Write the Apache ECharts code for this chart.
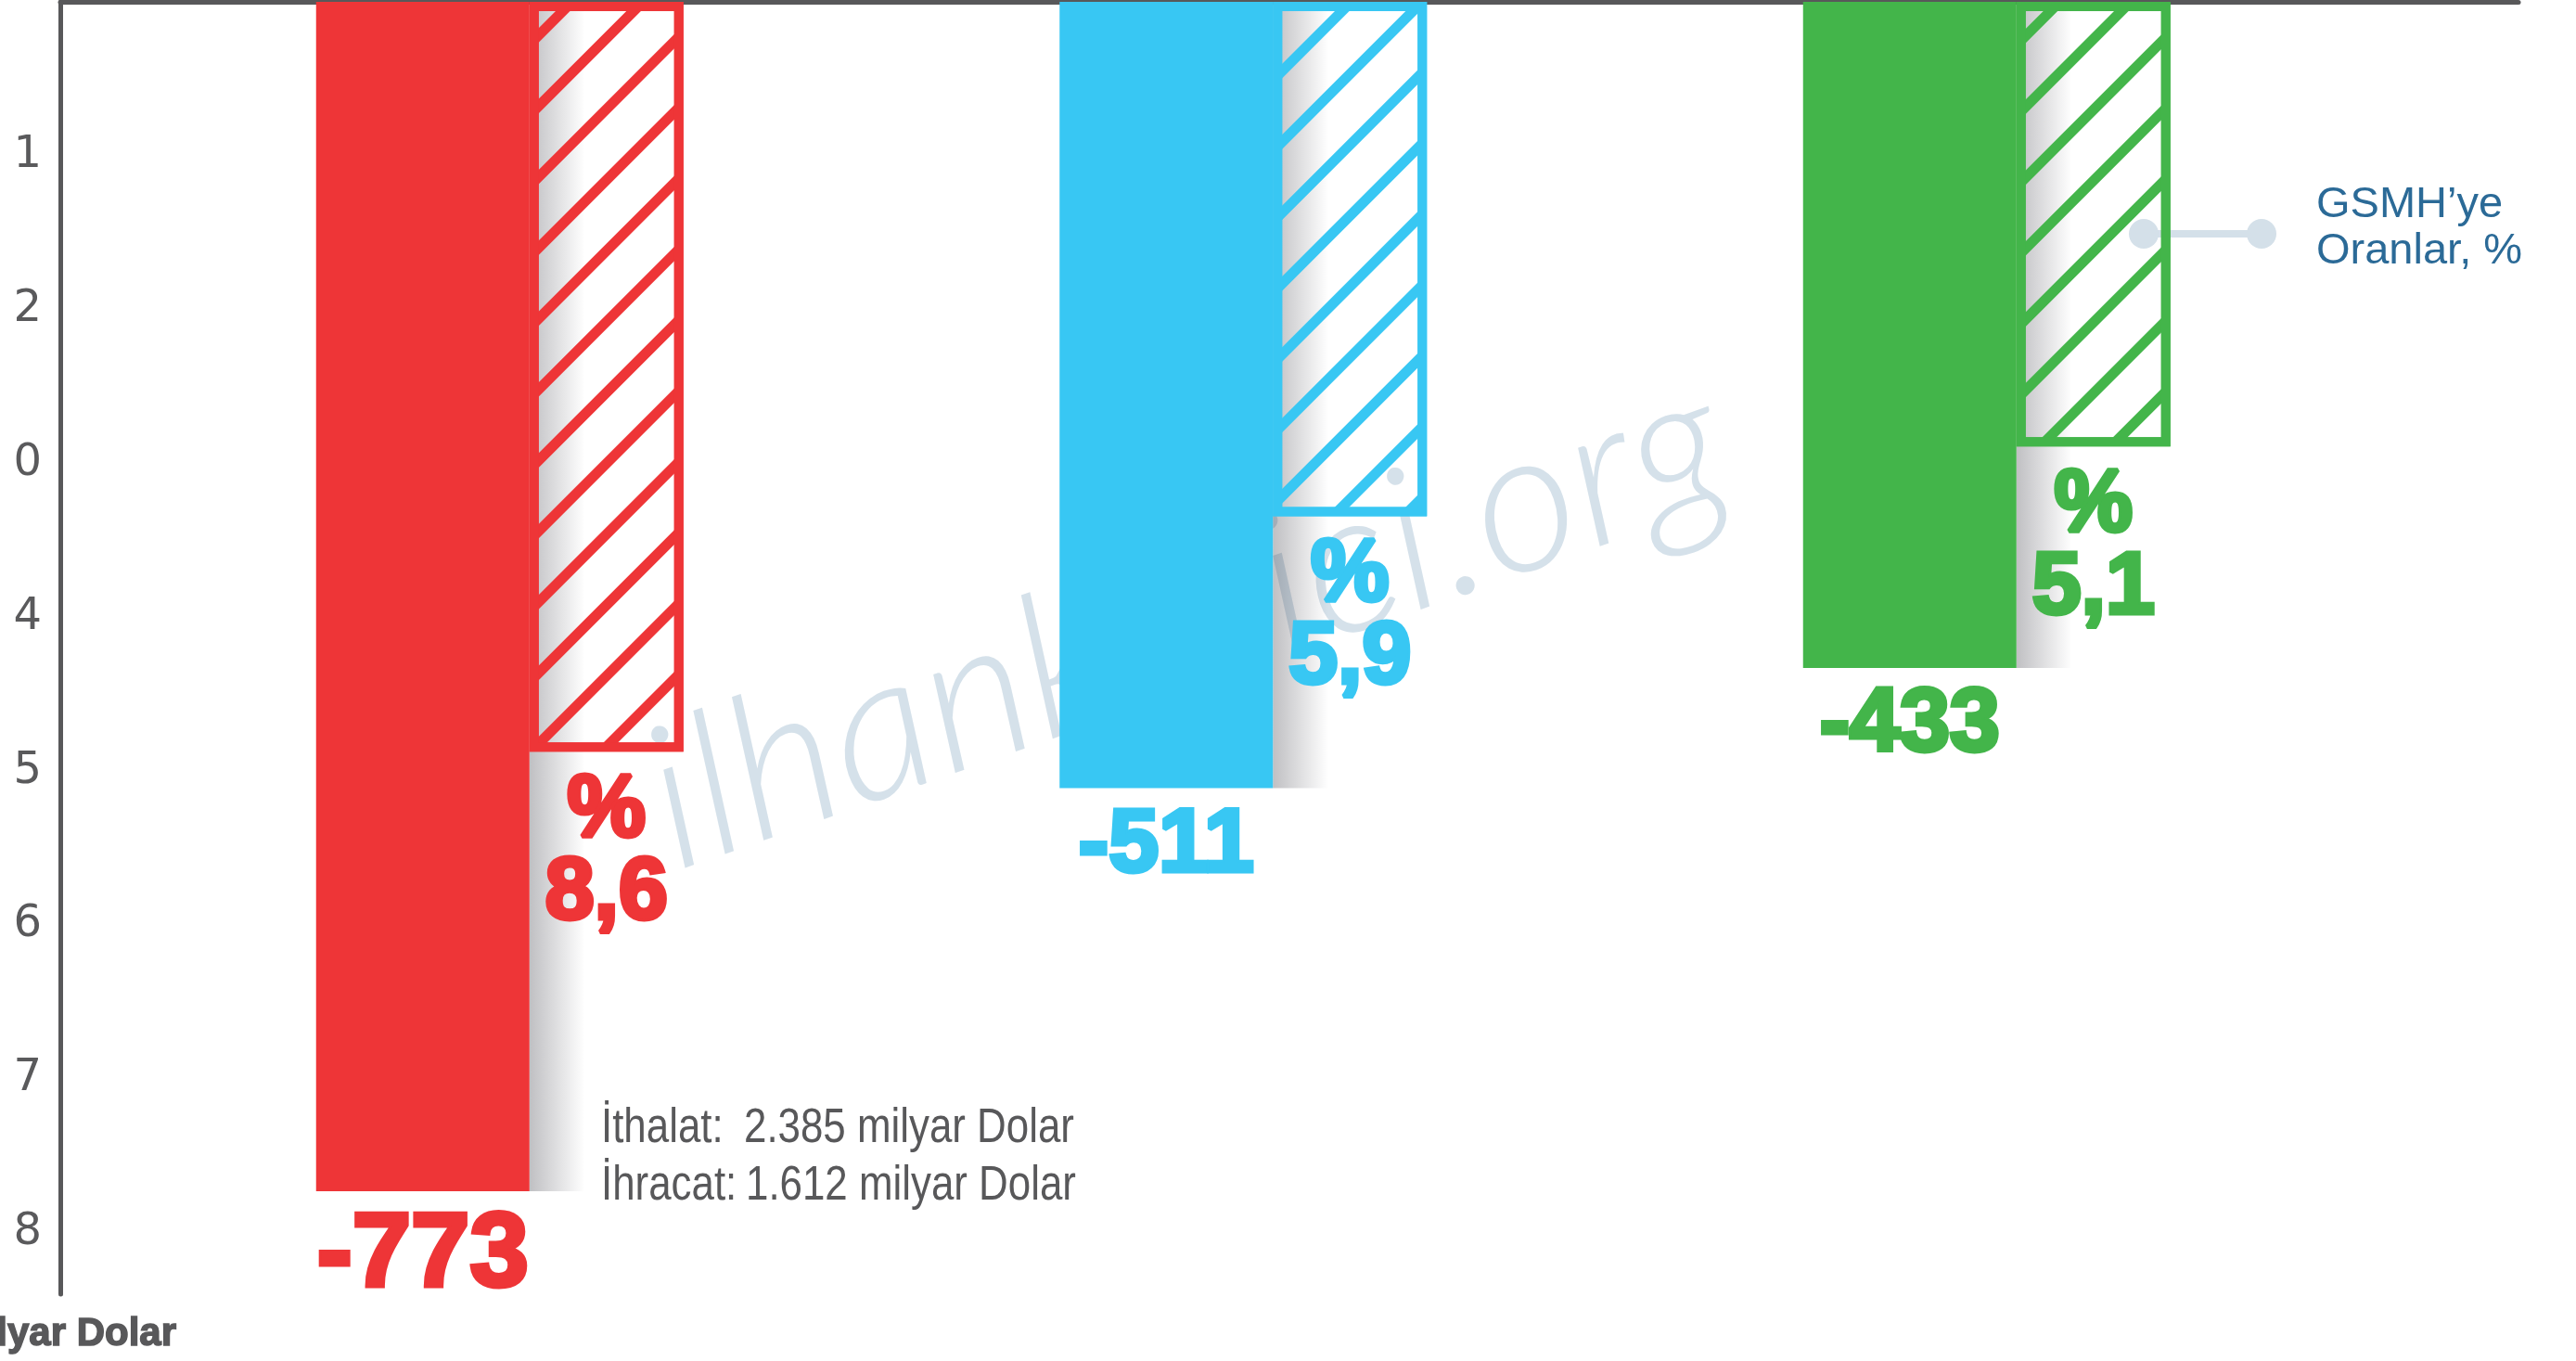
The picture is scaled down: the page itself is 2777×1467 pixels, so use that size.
<!DOCTYPE html>
<html>
<head>
<meta charset="utf-8">
<script src="https://cdn.jsdelivr.net/npm/echarts@6/dist/echarts.min.js"></script>
<style>
html,body{margin:0;padding:0;background:#ffffff;}
#chart{width:2777px;height:1467px;}
</style>
</head>
<body>
<div id="chart"></div>
<script>
// ---------------- DATA ----------------
const categories = ['Dönem 1', 'Dönem 2', 'Dönem 3'];
const deficit = [-773, -511, -433];          // dış ticaret açığı, milyar Dolar
const gdpRatio = [8.6, 5.9, 5.1];            // GSMH'ye oran, %
const yTickValues = [-100, -200, -300, -400, -500, -600, -700, -800];
const yTickLabels = ['1', '2', '0', '4', '5', '6', '7', '8'];
const importTotal = '2.385';
const exportTotal = '1.612';
const unitLabel = 'Milyar Dolar';
const ratioLegend = ['GSMH\u2019ye', 'Oranlar, %'];
const watermark = 'ilhankesici.org';

// ---------------- STYLE ----------------
const barColors = ['#ee3537', '#38c7f3', '#43b54a'];
const valueLabelSizes = [114, 97, 97];
const AXIS = '#58585a';
const Y_MIN = -840;
const PCT_MAX = 14.82;
const TOP = 2, H = 1393;

const chart = echarts.init(document.getElementById('chart'));

const shadowGrad = new echarts.graphic.LinearGradient(0, 0, 1, 0, [
  { offset: 0, color: 'rgba(45,45,55,0.30)' },
  { offset: 0.36, color: 'rgba(45,45,55,0)' }
]);

const boldFont = 'Liberation Sans';
const noteFont = '51px "Liberation Sans"';

const option = {
  animation: false,
  backgroundColor: '#ffffff',
  grid: [
    { left: 65, right: 62, top: TOP, height: H },
    { left: 138, width: 2404.5, top: TOP, height: H }
  ],
  xAxis: [
    { gridIndex: 0, type: 'category', data: categories, position: 'top',
      axisLine: { show: true, lineStyle: { color: AXIS, width: 5 } },
      axisTick: { show: false }, axisLabel: { show: false }, splitLine: { show: false } },
    { gridIndex: 1, type: 'category', data: categories, show: false },
    { gridIndex: 1, type: 'category', data: categories, show: false }
  ],
  yAxis: [
    { gridIndex: 0, type: 'value', min: Y_MIN, max: 0, interval: 10,
      axisLine: { show: true, lineStyle: { color: AXIS, width: 5, cap: 'round' } },
      axisTick: { show: false }, splitLine: { show: false },
      axisLabel: {
        formatter: function (v) {
          const i = yTickValues.indexOf(Math.round(v));
          return i < 0 ? '' : yTickLabels[i];
        },
        color: '#5a5a5c', fontSize: 48, fontFamily: 'DejaVu Sans', margin: 20
      } },
    { gridIndex: 1, type: 'value', min: Y_MIN, max: 0, show: false },
    { gridIndex: 1, type: 'value', min: 0, max: PCT_MAX, inverse: true, show: false }
  ],
  series: [
    { type: 'bar', name: 'base', xAxisIndex: 2, yAxisIndex: 1, data: deficit,
      barWidth: 230, barGap: 0, silent: true, z: 1,
      itemStyle: { color: 'rgba(0,0,0,0)' } },
    { type: 'bar', name: 'shadow', xAxisIndex: 2, yAxisIndex: 1, data: deficit,
      barWidth: 166, barGap: 0, silent: true, z: 1,
      itemStyle: { color: shadowGrad } },
    { type: 'bar', name: 'Dış ticaret açığı', xAxisIndex: 1, yAxisIndex: 1,
      barWidth: 230, barGap: 0, z: 3,
      data: deficit.map((v, i) => ({
        value: v,
        itemStyle: { color: barColors[i] },
        label: { color: barColors[i], textBorderColor: barColors[i], fontSize: valueLabelSizes[i] }
      })),
      label: { show: true, position: 'bottom', distance: 14, fontFamily: boldFont,
               fontWeight: 'bold', textBorderWidth: 5,
               formatter: p => String(p.value) } },
    { type: 'bar', name: 'GSMH\u2019ye Oranlar, %', xAxisIndex: 1, yAxisIndex: 2,
      barWidth: 166, barGap: 0, z: 4,
      data: gdpRatio.map((v, i) => ({
        value: v,
        itemStyle: {
          color: 'rgba(255,255,255,0)',
          borderColor: barColors[i],
          decal: { symbol: 'rect', symbolSize: 1, dashArrayX: [1, 0], dashArrayY: [11, 43],
                   rotation: -Math.PI / 4, color: barColors[i] }
        },
        label: { color: barColors[i], textBorderColor: barColors[i] }
      })),
      itemStyle: { borderWidth: 10 },
      label: { show: true, position: 'bottom', distance: 20, fontFamily: boldFont,
               fontWeight: 'bold', fontSize: 95, lineHeight: 89, textBorderWidth: 5,
               align: 'center',
               formatter: p => '%\n' + String(p.value).replace('.', ',') } }
  ],
  graphic: [
    { type: 'text', z: 0, x: 742, y: 975, rotation: 0.338,
      style: { text: watermark, font: 'italic 300 216px Lato, "Liberation Sans", sans-serif',
               fill: '#d5e1ea', verticalAlign: 'bottom', align: 'left' } },
    { type: 'line', z: 0, shape: { x1: 2311, y1: 252, x2: 2438, y2: 252 },
      style: { stroke: '#d4e0e9', lineWidth: 8 } },
    { type: 'circle', z: 0, shape: { cx: 2311, cy: 252, r: 16 }, style: { fill: '#d4e0e9' } },
    { type: 'circle', z: 0, shape: { cx: 2438, cy: 252, r: 16 }, style: { fill: '#d4e0e9' } },
    { type: 'text', z: 5, x: 2497, y: 221,
      style: { text: ratioLegend[0], font: '47px "Liberation Sans"', fill: '#2b6a97', verticalAlign: 'middle' } },
    { type: 'text', z: 5, x: 2497, y: 271,
      style: { text: ratioLegend[1], font: '47px "Liberation Sans"', fill: '#2b6a97', verticalAlign: 'middle' } },
    { type: 'text', z: 5, x: 648, y: 1217, scaleX: 0.86,
      style: { text: 'İthalat:', font: noteFont, fill: AXIS, verticalAlign: 'middle' } },
    { type: 'text', z: 5, x: 802, y: 1217, scaleX: 0.86,
      style: { text: importTotal + ' milyar Dolar', font: noteFont, fill: AXIS, verticalAlign: 'middle' } },
    { type: 'text', z: 5, x: 648, y: 1279, scaleX: 0.86,
      style: { text: 'İhracat:', font: noteFont, fill: AXIS, verticalAlign: 'middle' } },
    { type: 'text', z: 5, x: 804, y: 1279, scaleX: 0.86,
      style: { text: exportTotal + ' milyar Dolar', font: noteFont, fill: AXIS, verticalAlign: 'middle' } },
    { type: 'text', z: 5, x: 190, y: 1438,
      style: { text: unitLabel, font: 'bold 42px "Liberation Sans"', fill: AXIS, stroke: AXIS, lineWidth: 1.5,
               align: 'right', verticalAlign: 'middle' } }
  ]
};

chart.setOption(option);
</script>
</body>
</html>
